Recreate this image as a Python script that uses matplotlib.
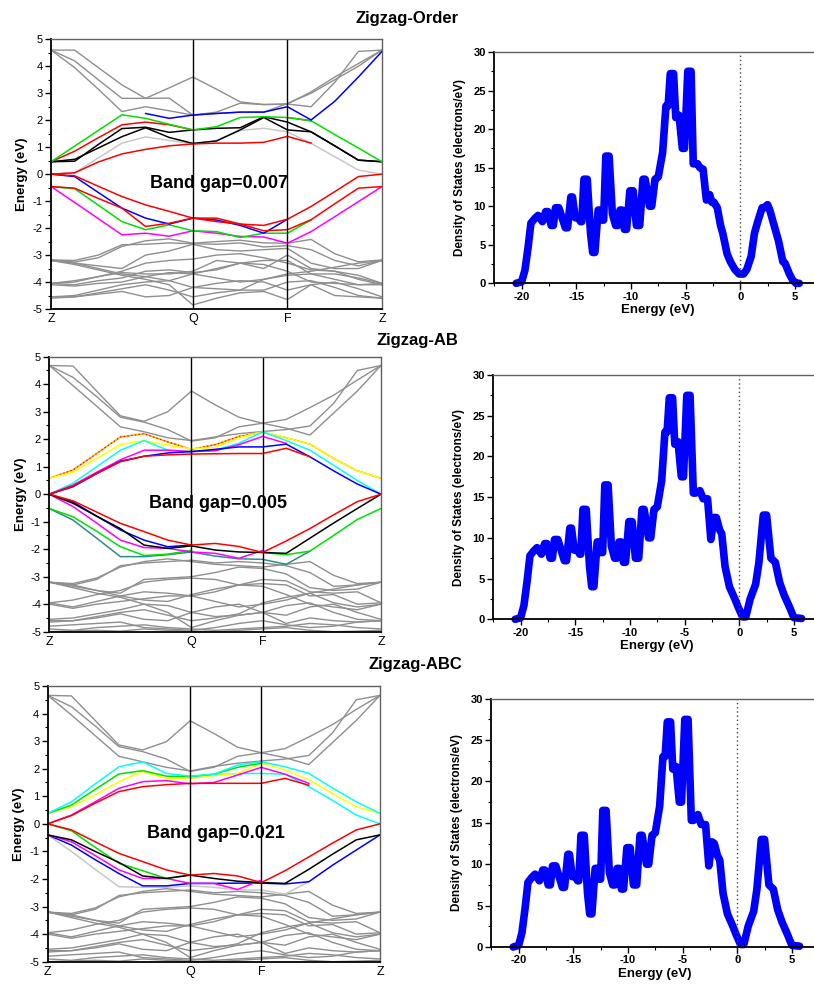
import matplotlib
matplotlib.use('Agg')
import matplotlib.pyplot as plt
from matplotlib.ticker import MultipleLocator
import numpy as np

plt.rcParams['font.family'] = ['Liberation Sans', 'DejaVu Sans']
plt.rcParams['axes.unicode_minus'] = False

nan = np.nan

# k-path labels, k index of Q and F for each panel (15 k-points, 0..14)
kpath_labels = ['Z', 'Q', 'F', 'Z']
order_kq, order_kf = 6, 10
ab_kq, ab_kf = 6, 9
abc_kq, abc_kf = 6, 9

titles = ['Zigzag-Order', 'Zigzag-AB', 'Zigzag-ABC']
gaps = ['Band gap=0.007', 'Band gap=0.005', 'Band gap=0.021']

# ---------------- Zigzag-Order bands ----------------
order_gray = [
    [4.6, 4.6, 3.95, 3.31, 2.81, 3.2, 3.6, 3.15, 2.68, 2.58, 2.6, 3.05, 3.6, 4.1, 4.6],
    [4.6, 4.2, 3.5, 2.81, 2.81, 2.82, 2.19, 2.3, 2.63, 2.58, 2.6, 2.5, 3.4, 4.55, 4.6],
    [4.6, 3.95, 3.15, 2.32, 2.5, 2.35, 2.19, 2.25, 2.3, 2.3, 2.62, 3.0, 3.5, 4.0, 4.6],
    [-3.18, -3.26, -3.1, -2.68, -2.47, -2.4, -2.56, -2.5, -2.45, -2.55, -2.56, -2.42, -2.95, -3.25, -3.18],
    [-3.18, -3.2, -3.0, -2.62, -2.6, -2.55, -2.58, -2.6, -2.55, -2.7, -2.65, -2.8, -3.2, -3.4, -3.2],
    [-3.2, -3.3, -3.4, -3.5, -3.0, -2.85, -2.6, -2.8, -2.85, -2.8, -2.75, -3.3, -3.5, -3.5, -3.2],
    [-3.2, -3.35, -3.55, -3.75, -3.9, -4.1, -4.85, -4.6, -4.4, -4.35, -4.65, -4.1, -4.5, -4.55, -4.6],
    [-4.05, -4.0, -3.8, -3.6, -3.3, -3.2, -3.15, -3.0, -2.95, -3.1, -3.3, -3.55, -3.6, -3.75, -4.05],
    [-4.05, -4.1, -3.95, -3.85, -3.6, -3.55, -3.65, -3.55, -3.3, -3.2, -3.2, -3.7, -3.7, -3.85, -4.05],
    [-4.1, -4.15, -4.05, -4.0, -3.8, -3.65, -3.7, -3.85, -4.0, -3.9, -3.75, -3.7, -3.9, -4.1, -4.1],
    [-4.55, -4.5, -4.3, -4.1, -4.0, -3.95, -4.2, -4.05, -3.95, -4.0, -4.3, -4.1, -4.0, -4.25, -4.55],
    [-4.55, -4.55, -4.45, -4.35, -4.55, -4.5, -4.2, -4.25, -4.3, -4.3, -4.0, -3.95, -4.2, -4.5, -4.6],
    [-4.6, -4.55, -4.4, -4.25, -4.1, -4.3, -4.55, -4.4, -4.3, -3.9, -3.7, -3.6, -3.45, -3.3, -3.2],
    [-3.2, -3.3, -3.5, -3.7, -3.8, -3.95, -3.7, -3.5, -3.3, -3.35, -3.6, -4.0, -4.05, -4.1, -4.05],
    [-4.05, -3.95, -3.8, -3.65, -3.7, -3.7, -3.6, -3.2, -3.3, -3.5, -3.0, -3.5, -3.6, -3.9, -4.1],
]
order_bands = [
    [0.0, 0.05, 0.6, 1.15, 1.38, 1.25, 1.12, 1.25, 1.62, 1.7, 1.57, 1.14, 0.65, 0.15, 0.0],
    [0.46, 0.48, 1.1, 1.69, 1.74, 1.55, 1.64, 1.7, 1.72, 2.13, 1.93, 1.57, 1.05, 0.52, 0.46],
    [0.46, 0.55, 0.97, 1.39, 1.72, 1.36, 1.14, 1.23, 1.64, 2.1, 1.64, 1.57, 1.05, 0.52, 0.46],
    [0.46, 0.85, 1.35, 1.83, 1.93, 1.83, 1.64, nan, nan, nan, 2.1, 1.98, nan, nan, nan],
    [0.46, 1.04, 1.62, 2.2, 2.07, 1.85, 1.64, 1.76, 2.1, 2.13, 2.1, 1.98, 1.47, 0.97, 0.46],
    [0.0, 0.05, 0.45, 0.75, 0.92, 1.05, 1.12, 1.15, 1.15, 1.18, 1.4, 1.15, nan, nan, nan],
    [nan, nan, nan, nan, 2.25, 2.07, 2.19, 2.25, 2.3, 2.3, 2.5, 2.01, 2.7, 3.6, 4.55],
    [-0.46, -1.05, -1.65, -2.25, -2.19, -2.3, -2.1, -2.19, -2.31, -2.33, -2.56, -2.13, -1.58, -1.02, -0.46],
    [-0.46, -0.54, -1.15, -1.76, -2.06, -1.88, -2.1, -2.13, -2.35, -2.19, -2.19, -1.7, nan, nan, nan],
    [0.0, -0.09, -0.68, -1.26, -1.63, -1.85, -1.63, -1.7, -1.9, -2.19, -1.67, nan, nan, nan, nan],
    [-0.46, -0.52, -0.9, -1.26, -1.94, -1.82, -1.63, -1.63, -1.85, -2.1, -2.06, -1.69, -1.1, -0.52, -0.46],
    [0.0, -0.06, -0.45, -0.83, -1.14, -1.38, -1.63, -1.76, -1.85, -1.9, -1.67, -1.2, -0.65, -0.09, 0.0],
]

# ---------------- Zigzag-AB bands ----------------
ab_gray = [
    [4.68, 4.66, 3.75, 2.85, 2.65, 3.0, 3.75, 3.25, 2.8, 2.58, 2.72, 3.15, 3.6, 4.15, 4.68],
    [4.68, 4.25, 3.55, 2.8, 2.62, 2.35, 1.93, 2.05, 2.45, 2.58, 2.4, 2.15, 2.95, 3.75, 4.68],
    [4.68, 3.95, 3.2, 2.45, 2.27, 2.05, 1.95, 2.08, 2.2, 2.28, 2.35, 2.48, 3.3, 4.5, 4.68],
    [-3.2, -3.25, -3.05, -2.65, -2.45, -2.35, -2.45, -2.55, -2.6, -2.65, -2.55, -2.45, -2.95, -3.25, -3.2],
    [-3.2, -3.3, -3.1, -2.6, -2.5, -2.45, -2.4, -2.5, -2.45, -2.5, -2.6, -2.85, -3.35, -3.3, -3.2],
    [-3.2, -3.35, -3.5, -3.6, -3.1, -3.05, -3.0, -2.85, -2.65, -2.7, -2.9, -3.4, -3.5, -3.45, -3.2],
    [-3.2, -3.4, -3.6, -3.75, -4.0, -4.3, -4.85, -4.6, -4.4, -4.3, -4.7, -4.5, -4.6, -4.65, -4.6],
    [-3.95, -3.85, -3.65, -3.5, -3.2, -3.1, -3.05, -3.1, -3.3, -3.1, -3.15, -3.55, -3.6, -3.55, -3.95],
    [-3.95, -4.1, -3.9, -3.7, -3.55, -3.6, -3.7, -3.55, -3.3, -3.25, -3.3, -3.7, -3.65, -4.0, -3.95],
    [-4.0, -4.15, -4.0, -3.9, -3.8, -3.7, -3.7, -3.9, -4.1, -4.0, -3.85, -3.6, -3.95, -4.1, -4.0],
    [-4.55, -4.5, -4.35, -4.2, -4.0, -4.05, -4.3, -4.1, -4.0, -4.3, -4.4, -4.1, -4.0, -4.3, -4.55],
    [-4.6, -4.6, -4.5, -4.35, -4.55, -4.6, -4.3, -4.45, -4.4, -4.3, -4.05, -3.95, -4.3, -4.55, -4.6],
    [-4.65, -4.6, -4.45, -4.3, -4.2, -4.4, -4.6, -4.5, -4.35, -3.95, -3.75, -3.6, -3.45, -3.3, -3.2],
    [-3.2, -3.3, -3.5, -3.7, -3.85, -3.9, -3.65, -3.45, -3.3, -3.35, -3.65, -4.0, -4.1, -4.2, -4.0],
    [-4.8, -4.75, -4.7, -4.65, -4.85, -4.9, -4.95, -4.85, -4.7, -4.6, -4.75, -4.85, -4.8, -4.65, -4.6],
    [-4.9, -4.95, -4.85, -4.8, -4.75, -4.85, -4.9, -4.95, -4.9, -4.85, -4.8, -4.7, -4.75, -4.85, -4.9],
    [-5.0, -4.97, -4.95, -4.98, -4.9, -4.95, -4.98, -5.0, -4.95, -4.9, -4.85, -4.95, -5.0, -4.98, -4.95],
]
ab_bands = [
    [0.58, 0.88, 1.48, 2.08, 2.2, 1.9, 1.63, 1.8, 2.1, 2.25, 2.05, 1.82, 1.3, 0.85, 0.58],
    [0.58, 0.8, 1.3, 1.8, 1.95, 1.78, 1.65, 1.7, 2.05, 2.27, 2.05, 1.82, 1.3, 0.85, 0.58],
    [0.0, 0.4, 1.0, 1.6, 1.95, 1.6, 1.55, 1.6, 1.85, 2.27, 1.95, 1.6, 1.05, 0.5, 0.0],
    [0.0, 0.33, 0.8, 1.25, 1.6, 1.6, 1.55, 1.58, 1.8, 2.1, 1.85, nan, nan, nan, nan],
    [0.0, 0.27, 0.75, 1.2, 1.38, 1.5, 1.55, 1.63, 1.72, 1.72, 1.82, 1.36, 0.85, 0.37, 0.0],
    [0.0, 0.3, 0.75, 1.18, 1.38, 1.43, 1.46, 1.47, 1.48, 1.48, 1.67, 1.36, nan, nan, nan],
    [-0.52, -0.94, -1.6, -2.27, -2.27, -2.2, -2.1, -2.25, -2.35, -2.37, -2.55, -2.07, nan, nan, nan],
    [-0.52, -0.82, -1.35, -1.91, -2.23, -2.18, -2.04, nan, nan, -2.12, -2.2, -2.07, -1.5, -0.92, -0.52],
    [0.0, -0.45, -1.05, -1.67, -1.94, -1.97, -2.1, -2.15, -2.33, -2.05, nan, nan, nan, nan, nan],
    [0.0, -0.28, -0.8, -1.3, -1.67, -1.91, -1.85, nan, nan, nan, nan, nan, nan, nan, nan],
    [0.0, -0.33, -0.8, -1.25, -1.85, -1.97, -1.88, -2.03, -2.1, -2.12, -2.15, -1.6, -1.05, -0.52, 0.0],
    [0.0, -0.24, -0.65, -1.06, -1.36, -1.67, -1.85, -1.79, -1.9, -2.12, -1.7, -1.25, -0.75, -0.27, 0.0],
]

# ---------------- Zigzag-ABC bands ----------------
abc_gray = [
    [4.66, 4.64, 3.75, 2.86, 2.68, 2.98, 3.74, 3.28, 2.78, 2.58, 2.73, 3.15, 3.6, 4.15, 4.66],
    [4.66, 4.25, 3.55, 2.8, 2.62, 2.35, 1.9, 2.05, 2.45, 2.58, 2.4, 2.15, 2.95, 3.75, 4.66],
    [4.66, 3.95, 3.2, 2.45, 2.25, 2.05, 1.92, 2.08, 2.2, 2.28, 2.35, 2.48, 3.3, 4.5, 4.66],
    [-3.2, -3.25, -3.05, -2.65, -2.45, -2.35, -2.45, -2.55, -2.6, -2.65, -2.55, -2.45, -2.95, -3.25, -3.2],
    [-3.2, -3.3, -3.1, -2.6, -2.5, -2.45, -2.4, -2.5, -2.45, -2.5, -2.6, -2.85, -3.35, -3.3, -3.2],
    [-3.2, -3.35, -3.5, -3.6, -3.1, -3.05, -3.0, -2.85, -2.65, -2.7, -2.9, -3.4, -3.5, -3.45, -3.2],
    [-3.2, -3.4, -3.6, -3.75, -4.0, -4.3, -4.85, -4.6, -4.4, -4.3, -4.7, -4.5, -4.6, -4.65, -4.6],
    [-3.95, -3.85, -3.65, -3.5, -3.2, -3.1, -3.05, -3.1, -3.3, -3.1, -3.15, -3.55, -3.6, -3.55, -3.95],
    [-3.95, -4.1, -3.9, -3.7, -3.55, -3.6, -3.7, -3.55, -3.3, -3.25, -3.3, -3.7, -3.65, -4.0, -3.95],
    [-4.0, -4.15, -4.0, -3.9, -3.8, -3.7, -3.7, -3.9, -4.1, -4.0, -3.85, -3.6, -3.95, -4.1, -4.0],
    [-4.55, -4.5, -4.35, -4.2, -4.0, -4.05, -4.3, -4.1, -4.0, -4.3, -4.4, -4.1, -4.0, -4.3, -4.55],
    [-4.6, -4.6, -4.5, -4.35, -4.55, -4.6, -4.3, -4.45, -4.4, -4.3, -4.05, -3.95, -4.3, -4.55, -4.6],
    [-4.65, -4.6, -4.45, -4.3, -4.2, -4.4, -4.6, -4.5, -4.35, -3.95, -3.75, -3.6, -3.45, -3.3, -3.2],
    [-3.2, -3.3, -3.5, -3.7, -3.85, -3.9, -3.65, -3.45, -3.3, -3.35, -3.65, -4.0, -4.1, -4.2, -4.0],
    [-4.8, -4.75, -4.7, -4.65, -4.85, -4.9, -4.95, -4.85, -4.7, -4.6, -4.75, -4.85, -4.8, -4.65, -4.6],
    [-4.9, -4.95, -4.85, -4.8, -4.75, -4.85, -4.9, -4.95, -4.9, -4.85, -4.8, -4.7, -4.75, -4.85, -4.9],
    [-5.0, -4.97, -4.95, -4.98, -4.9, -4.95, -4.98, -5.0, -4.95, -4.9, -4.85, -4.95, -5.0, -4.98, -4.95],
]
abc_bands = [
    [-0.4, -1.0, -1.65, -2.28, -2.3, -2.3, -2.25, -2.3, -2.4, -2.4, -2.55, -2.1, nan, nan, nan],
    [nan, nan, nan, nan, nan, nan, 1.73, 1.78, 1.82, 1.83, 1.8, 1.35, 0.85, 0.32, 0.0],
    [0.38, 0.62, 1.05, 1.53, 1.9, 1.65, 1.65, 1.75, 1.83, 2.2, 1.95, 1.6, 1.1, 0.62, 0.38],
    [0.38, 0.68, 1.25, 1.81, 1.93, 1.73, 1.71, 1.8, 2.05, 2.2, nan, nan, nan, nan, nan],
    [0.38, 0.8, 1.45, 2.07, 2.25, 1.83, 1.73, 1.8, 2.13, 2.25, 2.07, 1.83, 1.3, 0.8, 0.38],
    [0.0, 0.32, 0.8, 1.29, 1.53, 1.57, 1.45, 1.5, 1.77, 2.05, 1.8, 1.47, nan, nan, nan],
    [0.0, 0.3, 0.75, 1.17, 1.35, 1.42, 1.47, 1.47, 1.47, 1.47, 1.65, 1.4, nan, nan, nan],
    [-0.4, -0.77, -1.3, -1.8, -2.25, -2.25, -2.16, -2.16, -2.15, -2.15, -2.18, -2.1, -1.5, -0.95, -0.4],
    [-0.4, -0.65, -1.15, -1.67, -1.98, -1.98, -2.16, -2.16, -2.38, -2.04, nan, nan, nan, nan, nan],
    [0.0, -0.25, -0.85, -1.43, -1.7, -1.98, -1.86, nan, nan, nan, nan, nan, nan, nan, nan],
    [-0.4, -0.58, -1.0, -1.4, -1.89, -1.98, -1.86, -1.98, -2.08, -2.13, -2.16, -1.65, -1.1, -0.58, -0.4],
    [0.0, -0.22, -0.65, -1.07, -1.37, -1.67, -1.86, -1.8, -1.89, -2.13, -1.7, -1.2, -0.7, -0.22, 0.0],
]

# ---------------- DOS ----------------
dos_energy = [-20.5, -20.0, -19.7, -19.4, -19.15, -18.8, -18.5, -18.1, -17.8, -17.6, -17.3, -17.1,
              -16.9, -16.6, -16.3, -16.0, -15.8, -15.5, -15.35, -15.1, -14.8, -14.6, -14.5, -14.3,
              -14.0, -13.7, -13.5, -13.3, -13.0, -12.8, -12.7, -12.5, -12.3, -12.0, -11.7, -11.4,
              -11.2, -11.0, -10.8, -10.6, -10.4, -10.1, -9.8, -9.5, -9.2, -8.9, -8.7, -8.3, -8.1,
              -7.8, -7.5, -7.1, -6.8, -6.6, -6.4, -6.1, -5.9, -5.6, -5.3, -5.1, -4.8, -4.5]
dos_common = [0.0, 0.2, 1.7, 4.8, 7.8, 8.4, 8.8, 8.0, 9.3, 9.3, 7.5, 7.5,
              9.8, 9.8, 8.5, 7.2, 7.2, 11.2, 11.2, 8.5, 8.5, 8.0, 8.0, 13.5,
              13.5, 6.5, 4.0, 4.0, 9.5, 9.5, 8.2, 8.2, 16.5, 16.5, 9.0, 7.5,
              7.5, 9.5, 9.5, 7.0, 7.0, 12.0, 12.0, 7.5, 7.5, 13.5, 13.5, 10.0, 10.0,
              13.5, 13.8, 17.0, 23.0, 23.0, 27.2, 27.2, 21.5, 21.8, 17.5, 17.5, 27.5, 27.5]

order_tail_e = [-4.3, -3.9, -3.7, -3.4, -3.1, -2.8, -2.6, -2.4, -2.1, -1.8, -1.6, -1.2, -0.9,
                -0.5, -0.1, 0.3, 0.6, 1.0, 1.3, 1.6, 2.0, 2.2, 2.5, 2.7, 3.1, 3.5, 3.9, 4.1,
                4.5, 4.8, 5.1, 5.4]
order_tail = [15.5, 15.5, 15.0, 14.8, 10.8, 11.5, 10.5, 10.5, 9.8, 7.5, 6.5, 3.8, 2.8,
              1.8, 1.2, 1.2, 1.8, 3.5, 6.5, 8.0, 9.8, 9.8, 10.2, 9.5, 7.5, 5.5, 2.8, 2.6,
              1.2, 0.4, 0.0, 0.0]

ab_tail_e = [-4.2, -4.0, -3.6, -3.3, -2.9, -2.6, -2.3, -2.1, -1.8, -1.6, -1.3, -0.9, -0.4,
             -0.1, 0.3, 0.6, 1.0, 1.5, 1.8, 2.2, 2.5, 2.9, 3.3, 3.7, 4.1, 4.6, 5.0, 5.7]
ab_tail = [15.5, 15.5, 15.8, 14.8, 14.8, 9.8, 12.5, 12.5, 11.0, 10.5, 6.5, 4.0, 2.5,
           1.5, 0.3, 0.3, 2.5, 4.3, 7.0, 12.8, 12.8, 7.5, 7.0, 4.5, 3.0, 1.5, 0.2, 0.1]

abc_tail_e = [-4.2, -4.0, -3.6, -3.3, -2.9, -2.6, -2.3, -2.1, -1.8, -1.6, -1.3, -0.9, -0.4,
              -0.1, 0.3, 0.6, 1.0, 1.5, 1.8, 2.2, 2.5, 2.9, 3.3, 3.7, 4.1, 4.6, 5.0, 5.7]
abc_tail = [15.3, 15.3, 16.0, 14.8, 14.8, 9.8, 12.7, 12.5, 11.0, 10.5, 6.5, 4.0, 2.5,
            1.5, 0.3, 0.3, 2.5, 4.3, 7.0, 13.0, 13.0, 7.5, 7.0, 4.5, 3.0, 1.5, 0.2, 0.1]


def style_axes_common(ax):
    for s in ['left', 'bottom']:
        ax.spines[s].set_color('black')
        ax.spines[s].set_linewidth(1.3)
    ax.spines['top'].set_color('#606060')
    ax.spines['top'].set_linewidth(1.0)


def draw_bands(ax, gray, bands, colors, kq, kf, gap):
    k = np.arange(15)
    for b in gray:
        ax.plot(k, b, color='#8f8f8f', lw=1.0)
    for b, c in zip(bands, colors):
        ax.plot(k, b, color=c, lw=1.1)
        if c == '#ffa500':
            ax.plot(k, b, color='red', lw=0.9, ls=(0, (1, 2)))
    ax.axvline(kq, color='black', lw=1.0)
    ax.axvline(kf, color='black', lw=1.0)
    ax.set_xlim(0, 14)
    ax.set_ylim(-5, 5)
    ax.set_xticks([0, kq, kf, 14])
    ax.set_xticklabels(kpath_labels, fontsize=9)
    ax.tick_params(axis='x', length=0, pad=3)
    ax.yaxis.set_major_locator(MultipleLocator(1))
    ax.yaxis.set_minor_locator(MultipleLocator(0.5))
    ax.tick_params(axis='y', which='major', direction='out', length=4, width=1, labelsize=8, pad=2)
    ax.tick_params(axis='y', which='minor', direction='out', length=2, width=0.8)
    ax.set_ylabel('Energy (eV)', fontsize=9.5, fontweight='bold', labelpad=3)
    style_axes_common(ax)
    ax.spines['right'].set_color('#606060')
    ax.spines['right'].set_linewidth(1.0)
    ax.text(7.1, -0.35, gap, fontsize=13, fontweight='bold', ha='center', va='center')


def draw_dos(ax, e, d):
    ax.plot(e, d, color='#0000ff', lw=5.5, solid_joinstyle='round', solid_capstyle='round', clip_on=False)
    ax.axvline(0, ymin=-0.045, ymax=1, color='#444444', lw=1.0, ls=(0, (1, 2)), clip_on=False)
    ax.set_xlim(-22.53, 7.48)
    ax.set_ylim(0, 30)
    ax.set_xticks([-20, -15, -10, -5, 0, 5])
    ax.xaxis.set_minor_locator(MultipleLocator(2.5))
    ax.yaxis.set_major_locator(MultipleLocator(5))
    ax.yaxis.set_minor_locator(MultipleLocator(2.5))
    ax.tick_params(which='major', direction='out', length=4, width=1, labelsize=8, pad=2)
    ax.tick_params(which='minor', direction='out', length=2, width=0.8)
    for lab in ax.get_xticklabels() + ax.get_yticklabels():
        lab.set_fontweight('bold')
    ax.set_xlabel('Energy (eV)', fontsize=9.5, fontweight='bold', labelpad=2)
    ax.set_ylabel('Density of States (electrons/eV)', fontsize=8.5, fontweight='bold', labelpad=5)
    style_axes_common(ax)
    ax.spines['right'].set_visible(False)


fig = plt.figure(figsize=(8.14, 9.85), dpi=100)
W, H = 814.0, 985.0


def box(x0, y0, x1, y1):
    return [x0 / W, 1 - y1 / H, (x1 - x0) / W, (y1 - y0) / H]


order_colors = ['#c8c8c8', 'black', 'black', 'red', '#00e000', 'red', 'blue',
                'magenta', '#00e000', 'blue', 'red', 'red']
ab_colors = ['#ffa500', 'yellow', 'cyan', 'magenta', 'blue', 'red',
             '#2e8b8b', '#00e000', 'magenta', 'blue', 'black', 'red']
abc_colors = ['#c8c8c8', 'cyan', 'yellow', '#00e000', 'cyan', 'magenta', 'red',
              'blue', 'magenta', '#00e000', 'black', 'red']

ax1 = fig.add_axes(box(51, 39.3, 382, 309))
draw_bands(ax1, order_gray, order_bands, order_colors, order_kq, order_kf, gaps[0])
ax2 = fig.add_axes(box(49.3, 356.7, 381, 631.7))
draw_bands(ax2, ab_gray, ab_bands, ab_colors, ab_kq, ab_kf, gaps[1])
ax3 = fig.add_axes(box(47.7, 686, 380, 961.7))
draw_bands(ax3, abc_gray, abc_bands, abc_colors, abc_kq, abc_kf, gaps[2])

d1 = fig.add_axes(box(494, 52, 822, 283.3))
draw_dos(d1, dos_energy + order_tail_e, dos_common + order_tail)
d2 = fig.add_axes(box(493, 375, 821, 619.3))
draw_dos(d2, dos_energy + ab_tail_e, dos_common + ab_tail)
d3 = fig.add_axes(box(491, 698.7, 819, 947))
draw_dos(d3, dos_energy + abc_tail_e, dos_common + abc_tail)

fig.text(407 / W, 1 - 18 / H, titles[0], fontsize=12, fontweight='bold', ha='center', va='center')
fig.text(417 / W, 1 - 341 / H, titles[1], fontsize=12, fontweight='bold', ha='center', va='center')
fig.text(415 / W, 1 - 664 / H, titles[2], fontsize=12, fontweight='bold', ha='center', va='center')

fig.savefig('out.png', dpi=100)
